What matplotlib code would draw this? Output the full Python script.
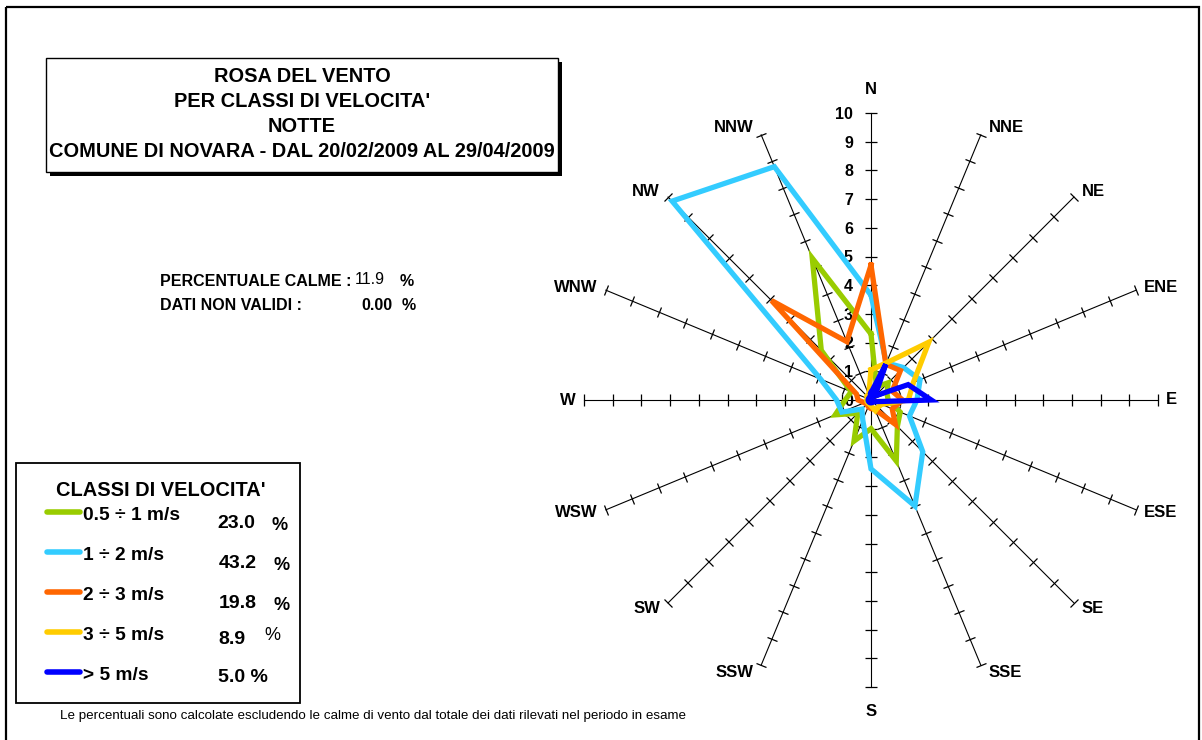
import numpy as np
import matplotlib
matplotlib.use("Agg")
import matplotlib.pyplot as plt
from matplotlib.markers import MarkerStyle
from matplotlib.transforms import Affine2D
from matplotlib.patches import Rectangle

# ---- data -------------------------------------------------------------
directions = ["N", "NNE", "NE", "ENE", "E", "ESE", "SE", "SSE",
              "S", "SSW", "SW", "WSW", "W", "WNW", "NW", "NNW"]

# frequency (%) per direction for each speed class
v_05_1 = [2.3, 0.5, 0.85, 0.6, 0.6, 1.1, 1.3, 2.3,
          1.0, 1.55, 0.65, 1.35, 0.9, 0.75, 2.45, 5.35]
v_1_2 = [3.65, 1.4, 1.6, 1.85, 1.6, 1.45, 2.55, 4.0,
         2.4, 0.75, 0.45, 1.1, 1.2, 1.9, 9.8, 8.8]
v_2_3 = [4.7, 1.35, 1.45, 0.8, 1.1, 0.8, 1.2, 0.35,
         0.3, 0.25, 0.2, 0.25, 0.45, 0.55, 4.9, 2.2]
v_3_5 = [1.05, 1.4, 2.85, 1.6, 1.3, 0.4, 0.35, 0.4,
         0.2, 0.15, 0.15, 0.15, 0.15, 0.15, 0.2, 0.2]
v_gt5 = [0.25, 1.35, 0.2, 1.4, 2.1, 0.15, 0.1, 0.1,
         0.1, 0.1, 0.1, 0.1, 0.1, 0.1, 0.1, 0.1]

class_labels = ["0.5 \u00f7 1 m/s", "1 \u00f7 2 m/s", "2 \u00f7 3 m/s",
                "3 \u00f7 5 m/s", "> 5 m/s"]
class_shares = ["23.0", "43.2", "19.8", "8.9", "5.0"]
class_colors = ["#99CC00", "#33CCFF", "#FF6600", "#FFCC00", "#0000FF"]
series = [v_05_1, v_1_2, v_2_3, v_3_5, v_gt5]

radial_ticks = list(range(0, 11))
calm_pct = "11.9"
invalid_pct = "0.00"

title_lines = ["ROSA DEL VENTO", "PER CLASSI DI VELOCITA'", "NOTTE",
               "COMUNE DI NOVARA - DAL 20/02/2009 AL 29/04/2009"]
footnote = ("Le percentuali sono calcolate escludendo le calme di vento "
            "dal totale dei dati rilevati nel periodo in esame")

# ---- figure -------------------------------------------------------------
plt.rcParams["font.family"] = ["Liberation Sans", "DejaVu Sans"]
W, H = 1202, 740
PT = 0.72  # points per pixel at 100 dpi
fig = plt.figure(figsize=(W / 100, H / 100), dpi=100)
fig.patch.set_facecolor("white")

# page layer in pixel units (y grows downward)
bg = fig.add_axes([0, 0, 1, 1])
bg.set_xlim(0, W)
bg.set_ylim(H, 0)
bg.axis("off")

# outer frame
bg.add_patch(Rectangle((6, 7), 1193, 760, fill=False, ec="black", lw=1.6))

# title box with drop shadow
bg.add_patch(Rectangle((50, 62), 512, 114, fc="black", ec="none"))
bg.add_patch(Rectangle((46, 58), 512, 114, fc="white", ec="black", lw=1))
for i, line in enumerate(title_lines):
    bg.text(302, 76 + i * 25.3, line, ha="center", va="center",
            fontsize=14.4, fontweight="bold")

# calm / invalid info
bg.text(160, 281, "PERCENTUALE CALME :", ha="left", va="center",
        fontsize=11.5, fontweight="bold")
bg.text(385, 280, calm_pct, ha="right", va="center", fontsize=11.5)
bg.text(400, 281, "%", ha="left", va="center", fontsize=11.5, fontweight="bold")
bg.text(160, 305, "DATI NON VALIDI :", ha="left", va="center",
        fontsize=11.5, fontweight="bold")
bg.text(392, 305, invalid_pct, ha="right", va="center",
        fontsize=11.5, fontweight="bold")
bg.text(402, 305, "%", ha="left", va="center", fontsize=11.5, fontweight="bold")

# speed-class legend box
bg.add_patch(Rectangle((16, 463), 284, 240, fill=False, ec="black", lw=1.3))
bg.text(56, 490, "CLASSI DI VELOCITA'", ha="left", va="center",
        fontsize=14.4, fontweight="bold")
for i, (lab, share, col) in enumerate(zip(class_labels, class_shares, class_colors)):
    y = 512 + 40 * i
    bg.plot([47, 80], [y, y], color=col, lw=4, solid_capstyle="round")
    bg.text(83, y + 3, lab, ha="left", va="center", fontsize=13.8,
            fontweight="bold")
    if i == 4:
        bg.text(218, y + 5, share + " %", ha="left", va="center",
                fontsize=14, fontweight="bold")
    elif i == 3:
        bg.text(218, y + 8, share, ha="left", va="center", fontsize=14,
                fontweight="bold")
        bg.text(264, y + 3, "%", ha="left", va="center", fontsize=13)
    else:
        bg.text(217 + (i > 0) * 2, y + 11, share, ha="left", va="center",
                fontsize=14, fontweight="bold")
        bg.text(271 + (i > 0) * 2, y + 13, "%", ha="left", va="center",
                fontsize=13, fontweight="bold")

bg.text(60, 716, footnote, ha="left", va="center", fontsize=9.6)

# ---- wind rose ----------------------------------------------------------
cx, cy, R = 871, 400, 287
ax = fig.add_axes([(cx - R) / W, (H - cy - R) / H, 2 * R / W, 2 * R / H],
                  projection="polar")
ax.set_theta_zero_location("N")
ax.set_theta_direction(-1)
ax.set_ylim(0, 10)
ax.set_axis_off()

n = len(directions)
deg = np.arange(n) * 360.0 / n
theta = np.deg2rad(deg)

# spokes with unit ticks
for a, t in zip(deg, theta):
    ax.plot([t, t], [0, 10], color="black", lw=0.8, clip_on=False, zorder=1)
    tick = MarkerStyle("_", transform=Affine2D().rotate_deg(-a))
    ax.plot([t] * 10, radial_ticks[1:], ls="none", marker=tick, ms=8,
            mec="black", mew=0.9, clip_on=False, zorder=1)

# direction names beside the spoke ends
for name, a, t in zip(directions, deg, theta):
    s, c = np.sin(t), np.cos(t)
    if abs(s) < 1e-6:
        off = (0, 24 * c)
        ha = "center"
    else:
        off = (8 * np.sign(s), 7.5 * c)
        ha = "left" if s > 0 else "right"
    ax.annotate(name, xy=(t, 10), xytext=(off[0] * PT, off[1] * PT),
                textcoords="offset points", ha=ha, va="center",
                fontsize=12, fontweight="bold", annotation_clip=False)

# radial scale along the north spoke
for r in radial_ticks:
    ax.annotate(str(r), xy=(0, r), xytext=(-13, -1), textcoords="offset points",
                ha="right", va="center", fontsize=11.5, fontweight="bold")

# one closed polygon per speed class
tt = np.append(theta, theta[0])
for vals, col in zip(series, class_colors):
    rr = np.append(vals, vals[0])
    ax.plot(tt, rr, color=col, lw=3.8, solid_joinstyle="miter",
            clip_on=False, zorder=3)

fig.savefig("out.png", dpi=100, facecolor="white")
